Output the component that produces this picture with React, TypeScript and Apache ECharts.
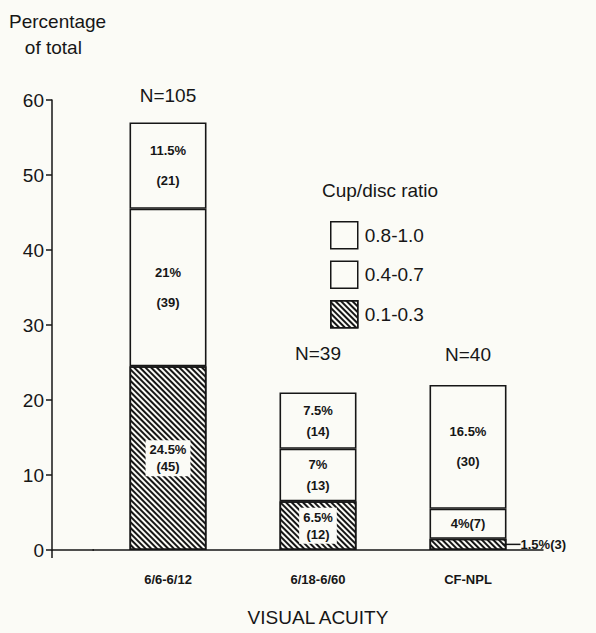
import React, { useEffect, useRef } from "react";
import * as echarts from "echarts";

const categories = ["6/6-6/12", "6/18-6/60", "CF-NPL"];
const ratioNames = ["0.1-0.3", "0.4-0.7", "0.8-1.0"];
const pctLow = [24.5, 6.5, 1.5];
const pctMid = [21, 7, 4];
const pctHigh = [11.5, 7.5, 16.5];
const cntLow = [45, 12, 3];
const cntMid = [39, 13, 7];
const cntHigh = [21, 14, 30];
const nTotals = [105, 39, 40];
const yMin = 0;
const yMax = 60;
const yStep = 10;

const FONT = "'Liberation Sans', Arial, Helvetica, sans-serif";
const INK = "#161616";
const BG = "#fbfbf6";

const hatch = {
  symbol: "rect",
  symbolSize: 1,
  dashArrayX: [1, 0],
  dashArrayY: [1.8, 1.4],
  rotation: Math.PI / 4,
  color: INK,
  backgroundColor: BG,
};

function segLabel(pct: number, cnt: number, hatched: boolean) {
  const base: any = {
    show: true,
    color: INK,
    fontFamily: FONT,
    fontWeight: "bold",
    fontSize: 13,
  };
  if (pct < 2) {
    return {
      ...base,
      position: "right",
      distance: -4,
      formatter: `{ln|}{t|${pct}%(${cnt})}`,
      rich: {
        ln: { width: 18, height: 1.5, backgroundColor: INK },
        t: { color: INK, fontFamily: FONT, fontWeight: "bold", fontSize: 13 },
      },
    };
  }
  if (pct < 5) {
    return { ...base, position: "inside", formatter: `${pct}%(${cnt})` };
  }
  return {
    ...base,
    position: "inside",
    formatter: `${pct}%\n(${cnt})`,
    lineHeight: hatched ? 17 : pct >= 10 ? 30 : 21,
    backgroundColor: hatched ? BG : "transparent",
    padding: hatched ? [1, 4] : 0,
  };
}

function makeSeries(name: string, pcts: number[], cnts: number[], hatched: boolean) {
  const itemStyle: any = { color: BG, borderColor: INK, borderWidth: 1.6 };
  if (hatched) itemStyle.decal = hatch;
  return {
    name,
    type: "bar",
    stack: "total",
    barWidth: 77,
    itemStyle,
    data: pcts.map((v, i) => ({ value: v, label: segLabel(v, cnts[i], hatched) })),
  };
}

const totals = categories.map((_, i) => pctLow[i] + pctMid[i] + pctHigh[i]);
const nGap = [18, 30, 21];

export default function App() {
  const ref = useRef<HTMLDivElement>(null);
  useEffect(() => {
    const chart = echarts.init(ref.current!, null, { renderer: "svg" });
    chart.setOption({
      animation: false,
      backgroundColor: BG,
      grid: { left: 93, width: 450, top: 100, height: 450 },
      legend: {
        data: ["0.8-1.0", "0.4-0.7", "0.1-0.3"],
        orient: "vertical",
        left: 325,
        top: 216,
        itemWidth: 27,
        itemHeight: 27,
        itemGap: 11,
        icon: "rect",
        selectedMode: false,
        itemStyle: { borderColor: INK, borderWidth: 1.5 },
        textStyle: { fontFamily: FONT, fontSize: 19, color: INK, padding: [0, 0, 0, 2] },
      },
      xAxis: {
        type: "category",
        data: categories,
        axisLine: { lineStyle: { color: INK, width: 1.5 } },
        axisTick: { show: false },
        axisLabel: { color: INK, fontFamily: FONT, fontWeight: "bold", fontSize: 13, margin: 23 },
        name: "VISUAL ACUITY",
        nameLocation: "middle",
        nameGap: 58,
        nameTextStyle: { fontFamily: FONT, fontSize: 19, color: INK },
      },
      yAxis: {
        type: "value",
        min: yMin,
        max: yMax,
        interval: yStep,
        offset: 41,
        axisLine: { show: true, lineStyle: { color: INK, width: 1.5 } },
        axisTick: { show: true, length: 6, lineStyle: { color: INK, width: 1.5 } },
        axisLabel: { color: INK, fontFamily: FONT, fontSize: 19, margin: 8 },
        splitLine: { show: false },
      },
      series: [
        makeSeries(ratioNames[0], pctLow, cntLow, true),
        makeSeries(ratioNames[1], pctMid, cntMid, false),
        makeSeries(ratioNames[2], pctHigh, cntHigh, false),
        {
          name: "N",
          type: "scatter",
          symbolSize: 0,
          silent: true,
          itemStyle: { opacity: 1, color: INK },
          data: totals.map((t, i) => ({
            value: [i, t],
            label: {
              show: true,
              position: "top",
              distance: nGap[i],
              formatter: `N=${nTotals[i]}`,
              fontFamily: FONT,
              fontSize: 19,
              color: INK,
              opacity: 1,
            },
          })),
        },
      ],
      graphic: [
        {
          type: "text",
          left: 9,
          top: 8,
          style: {
            text: "Percentage\n   of total",
            fontFamily: FONT,
            fontSize: 19,
            lineHeight: 26,
            fill: INK,
          },
        },
        {
          type: "text",
          left: 322,
          top: 181,
          style: { text: "Cup/disc ratio", fontFamily: FONT, fontSize: 19, fill: INK },
        },
        {
          type: "line",
          shape: { x1: 52, y1: 550, x2: 94, y2: 550 },
          style: { stroke: INK, lineWidth: 1.5 },
        },
        {
          type: "line",
          shape: { x1: 52, y1: 550, x2: 52, y2: 558 },
          style: { stroke: INK, lineWidth: 1.5 },
        },
      ],
    });
    return () => chart.dispose();
  }, []);
  return (
    <div
      ref={ref}
      style={{ position: "fixed", left: 0, top: 0, width: 596, height: 633, background: BG }}
    />
  );
}
